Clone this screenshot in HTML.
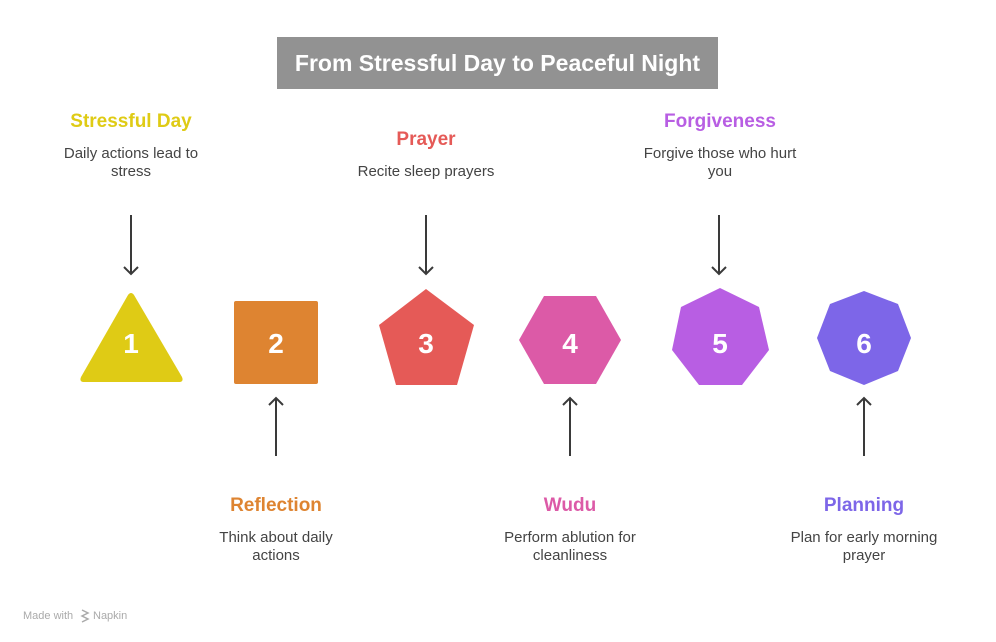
<!DOCTYPE html>
<html><head><meta charset="utf-8"><style>
html,body{margin:0;padding:0;background:#fff;}
svg{display:block;font-family:"Liberation Sans",Arial,sans-serif;}
.h{font-weight:bold;font-size:19px;text-anchor:middle;}
.d{font-size:15px;fill:#444;text-anchor:middle;}
.n{font-weight:bold;font-size:28px;fill:#fff;text-anchor:middle;}
.a{stroke:#3a3a3a;stroke-width:2;fill:none;}
</style></head><body>
<svg width="996" height="642" viewBox="0 0 996 642">
<rect x="277" y="37" width="441" height="52" fill="#929292"/>
<text x="497.5" y="71" font-size="23" font-weight="bold" fill="#fff" text-anchor="middle">From Stressful Day to Peaceful Night</text>

<text class="h" x="131" y="127" fill="#dfcb15">Stressful Day</text>
<text class="d" x="131" y="158">Daily actions lead to</text>
<text class="d" x="131" y="176">stress</text>
<text class="h" x="426" y="145" fill="#e55a57">Prayer</text>
<text class="d" x="426" y="176">Recite sleep prayers</text>
<text class="h" x="720" y="127" fill="#b85ee3">Forgiveness</text>
<text class="d" x="720" y="158">Forgive those who hurt</text>
<text class="d" x="720" y="176">you</text>

<text class="h" x="276" y="511" fill="#de8431">Reflection</text>
<text class="d" x="276" y="542">Think about daily</text>
<text class="d" x="276" y="560">actions</text>
<text class="h" x="570" y="511" fill="#dc5aa7">Wudu</text>
<text class="d" x="570" y="542">Perform ablution for</text>
<text class="d" x="570" y="560">cleanliness</text>
<text class="h" x="864" y="511" fill="#7d66e8">Planning</text>
<text class="d" x="864" y="542">Plan for early morning</text>
<text class="d" x="864" y="560">prayer</text>

<g class="a">
<path d="M131 215V274M124 267L131 274L138 267"/>
<path d="M426 215V274M419 267L426 274L433 267"/>
<path d="M719 215V274M712 267L719 274L726 267"/>
<path d="M276 456V398M269 405L276 398L283 405"/>
<path d="M570 456V398M563 405L570 398L577 405"/>
<path d="M864 456V398M857 405L864 398L871 405"/>
</g>

<path d="M128 295Q131 291 134 295L182 377Q184 382 179 382H84Q79 382 81 377Z" fill="#dfcb15"/>
<rect x="234" y="301" width="84" height="83" rx="2" fill="#de8431"/>
<polygon points="426,289 474,325 457,385 396,385 379,325" fill="#e55a57"/>
<polygon points="544,296 596,296 621,340 596,384 544,384 519,340" fill="#dc5aa7"/>
<polygon points="720,288 759,307 769,350 742,385 699,385 672,350 681,307" fill="#b85ee3"/>
<polygon points="864,291 898,304 911,338 898,371 864,385 830,371 817,338 830,304" fill="#7d66e8"/>

<text class="n" x="131" y="353">1</text>
<text class="n" x="276" y="353">2</text>
<text class="n" x="426" y="353">3</text>
<text class="n" x="570" y="353">4</text>
<text class="n" x="720" y="353">5</text>
<text class="n" x="864" y="353">6</text>

<text x="23" y="619" font-size="11" fill="#aaa">Made with</text>
<path d="M82 610l6 3-6 3 6 3-6 3" stroke="#aaa" stroke-width="1.5" fill="none"/>
<text x="93" y="619" font-size="11" fill="#aaa">Napkin</text>
</svg>
</body></html>
